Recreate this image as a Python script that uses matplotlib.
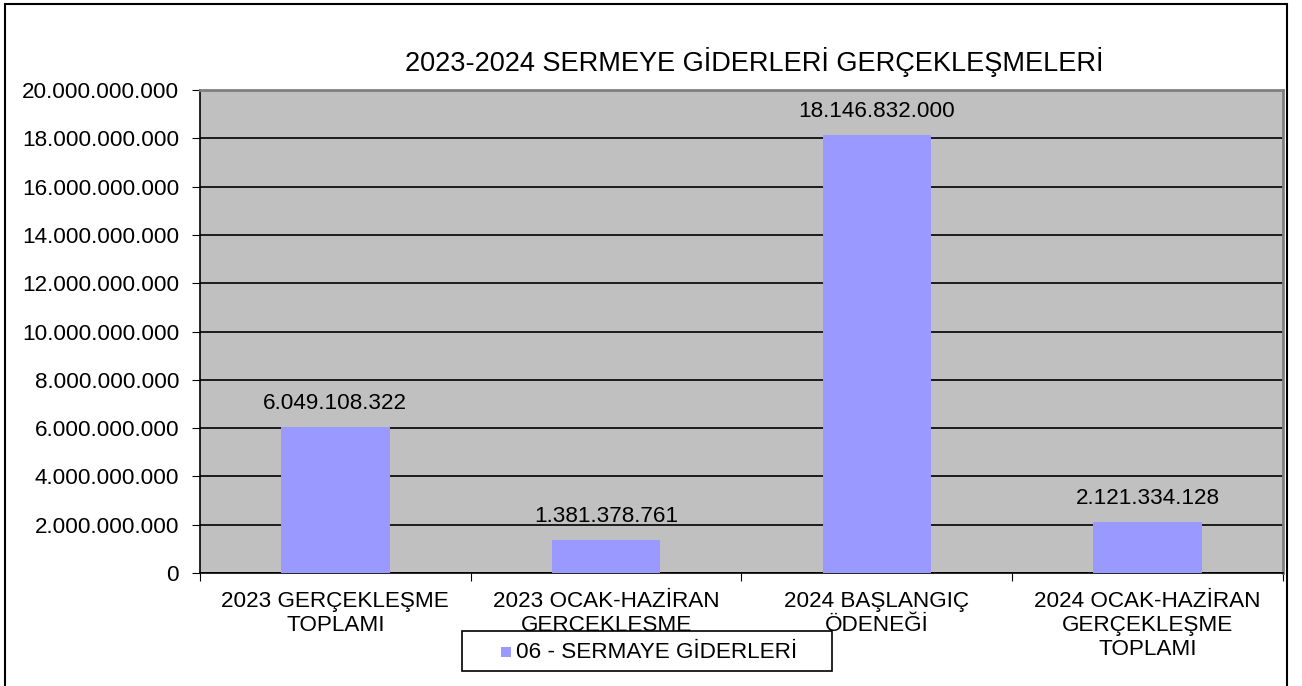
import matplotlib.pyplot as plt
import matplotlib.patches as mpatches

plt.rcParams['font.family'] = ['Liberation Sans', 'DejaVu Sans']

categories = ["2023 GERÇEKLEŞME\nTOPLAMI",
              "2023 OCAK-HAZİRAN\nGERÇEKLEŞME\nTOPLAMI",
              "2024 BAŞLANGIÇ\nÖDENEĞİ",
              "2024 OCAK-HAZİRAN\nGERÇEKLEŞME\nTOPLAMI"]
values = [6049108322, 1381378761, 18146832000, 2121334128]
series_name = "06 - SERMAYE GİDERLERİ"
title = "2023-2024 SERMEYE GİDERLERİ GERÇEKLEŞMELERİ"
yticks = list(range(0, 20000000001, 2000000000))

BAR_COLOR = '#9999FF'
FS = 16.2


def dotted(v):
    return f"{v:,.0f}".replace(",", ".")


fig = plt.figure(figsize=(13.02, 6.86), dpi=100)
ax = fig.add_axes([0.1536, 0.1647, 0.8318, 0.7041])
ax.set_facecolor('#C0C0C0')

x = list(range(len(values)))
ax.bar(x, values, width=0.4, color=BAR_COLOR, zorder=3)
for xi, v in zip(x, values):
    ax.annotate(dotted(v), (xi, v), xytext=(0, 17), textcoords='offset points',
                ha='center', va='center', fontsize=FS)

ax.set_xlim(-0.5, len(values) - 0.5)
ax.set_ylim(0, 20000000000)
ax.set_yticks(yticks)
ax.set_yticklabels([dotted(v) for v in yticks], fontsize=FS)
ax.yaxis.grid(True, color='black', linewidth=1.2, zorder=1)
ax.set_axisbelow(True)

# category ticks sit between groups
ax.set_xticks([i - 0.5 for i in range(len(values) + 1)])
ax.set_xticklabels([])
ax.set_xticks(x, minor=True)
ax.set_xticklabels(categories, minor=True, fontsize=FS, linespacing=1.2)
ax.tick_params(axis='x', which='minor', length=0, pad=13)
ax.tick_params(axis='x', which='major', length=6, direction='out', color='black')
ax.tick_params(axis='y', length=6, direction='out', pad=9)

for s in ['left', 'bottom']:
    ax.spines[s].set_color('black')
    ax.spines[s].set_linewidth(1.2)
for s in ['top', 'right']:
    ax.spines[s].set_color('#808080')
    ax.spines[s].set_linewidth(2)

fig.text(754 / 1302, 1 - 62 / 686, title, ha='center', va='center', fontsize=19.5)

# legend box (drawn on top of the clipped category label, like the original)
W, H = 1302, 686
fig.add_artist(mpatches.Rectangle((462 / W, 1 - 671 / H), 370 / W, 40 / H,
                                  transform=fig.transFigure, facecolor='white',
                                  edgecolor='black', linewidth=1.2, zorder=10))
fig.add_artist(mpatches.Rectangle((501 / W, 1 - 657 / H), 10 / W, 10 / H,
                                  transform=fig.transFigure, facecolor=BAR_COLOR,
                                  edgecolor='none', zorder=11))
fig.text(516 / W, 1 - 652 / H, series_name, ha='left', va='center',
         fontsize=FS, zorder=11)

border = mpatches.Rectangle((5 / W, -0.01), 1282 / W, 1 - 4 / H + 0.01,
                            transform=fig.transFigure, fill=False,
                            edgecolor='black', linewidth=1.5, clip_on=False)
fig.add_artist(border)

fig.savefig('out.png', dpi=100)
